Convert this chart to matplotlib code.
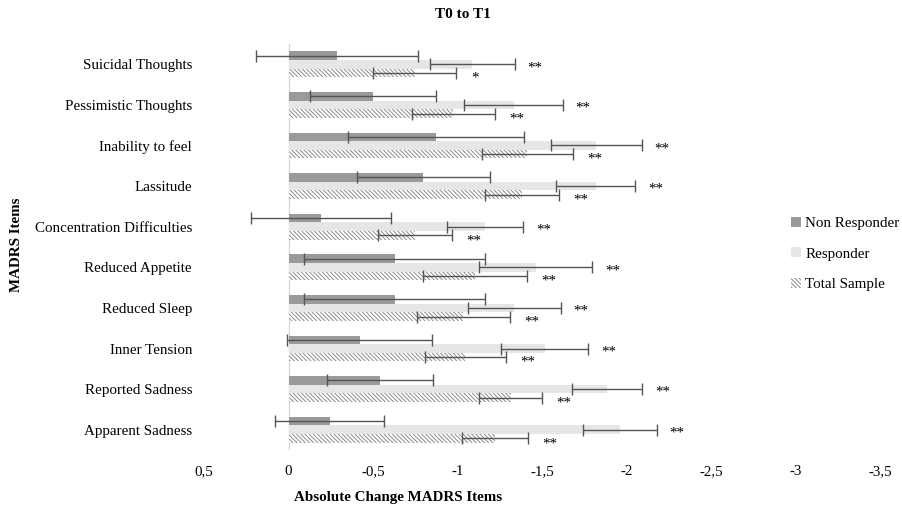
import numpy as np
import matplotlib
matplotlib.use('Agg')
import matplotlib.pyplot as plt
from matplotlib.patches import Patch

plt.rcParams['font.family'] = ['Liberation Serif', 'DejaVu Serif']
plt.rcParams['hatch.linewidth'] = 0.7
plt.rcParams['hatch.color'] = '#8c8c8c'

# bottom to top, as in the chart
items = ['Apparent Sadness', 'Reported Sadness', 'Inner Tension', 'Reduced Sleep',
         'Reduced Appetite', 'Concentration Difficulties', 'Lassitude',
         'Inability to feel', 'Pessimistic Thoughts', 'Suicidal Thoughts']

nr_mean = [-0.244, -0.543, -0.421, -0.628, -0.628, -0.192, -0.798, -0.873, -0.50, -0.285]
nr_err = [0.322, 0.314, 0.429, 0.534, 0.537, 0.412, 0.392, 0.519, 0.373, 0.48]

r_mean = [-1.962, -1.885, -1.516, -1.336, -1.462, -1.163, -1.818, -1.821, -1.332, -1.088]
r_err = [0.218, 0.209, 0.257, 0.274, 0.336, 0.227, 0.233, 0.268, 0.292, 0.25]

t_mean = [-1.22, -1.315, -1.046, -1.034, -1.104, -0.747, -1.383, -1.413, -0.975, -0.747]
t_err = [0.195, 0.186, 0.24, 0.274, 0.309, 0.219, 0.218, 0.268, 0.247, 0.247]

r_stars = ['**'] * 10
t_stars = ['**'] * 9 + ['*']

xticks = [0.5, 0, -0.5, -1, -1.5, -2, -2.5, -3, -3.5]
xticklabels = ['0,5', '0', '-0,5', '-1', '-1,5', '-2', '-2,5', '-3', '-3,5']

fs = 10.8
hatch = '\\\\\\\\\\\\\\\\'

fig = plt.figure(figsize=(9.02, 5.09), dpi=100)
ax = fig.add_axes([204/902, 1-450/509, 676/902, 406/509])

y = np.arange(len(items))
h = 0.213
err_kw = dict(ecolor='#555555', elinewidth=1.0, capsize=4, capthick=1.0)

ax.barh(y + h, nr_mean, height=h, color='#9a9a9a', xerr=nr_err, error_kw=err_kw, zorder=2)
ax.barh(y, r_mean, height=h, color='#e6e6e6', xerr=r_err, error_kw=err_kw, zorder=2)
ax.barh(y - h, t_mean, height=h, color='white', hatch=hatch, edgecolor='#8c8c8c',
        linewidth=0, xerr=t_err, error_kw=err_kw, zorder=2)

for i in range(len(items)):
    ax.text(r_mean[i] - r_err[i] - 0.075, y[i] - 0.08, r_stars[i], fontsize=fs,
            ha='left', va='center')
    ax.text(t_mean[i] - t_err[i] - 0.085, y[i] - h - 0.13, t_stars[i], fontsize=fs,
            ha='left', va='center')

ax.axvline(0, color='#d9d9d9', lw=1, zorder=1)
ax.set_xlim(0.5, -3.5)
ax.set_ylim(-0.5, 9.5)
ax.set_xticks(xticks)
ax.set_xticklabels(xticklabels)
ax.set_yticks(y)
ax.set_yticklabels(items)
ax.tick_params(axis='x', length=0, pad=11, labelsize=fs)
ax.tick_params(axis='y', length=0, pad=8.6, labelsize=fs)
for s in ax.spines.values():
    s.set_visible(False)

fig.text(463/902, 1-15/509, 'T0 to T1', ha='center', va='center', fontsize=11, fontweight='bold')
fig.text(398/902, 1-498/509, 'Absolute Change MADRS Items', ha='center', va='center',
         fontsize=fs, fontweight='bold')
fig.text(17/902, 1-245/509, 'MADRS Items', ha='center', va='center', rotation=90,
         fontsize=fs, fontweight='bold')

handles = [Patch(facecolor='#9a9a9a', label='Non Responder'),
           Patch(facecolor='#e6e6e6', label='Responder'),
           Patch(facecolor='white', hatch=hatch, edgecolor='#8c8c8c', linewidth=0,
                 label='Total Sample')]
fig.legend(handles=handles, loc='center left', bbox_to_anchor=(785/902, 1-254/509),
           frameon=False, fontsize=fs, handlelength=0.65, handleheight=0.65,
           handletextpad=0.3, labelspacing=1.15, borderaxespad=0)

fig.savefig('out.png', dpi=100)
